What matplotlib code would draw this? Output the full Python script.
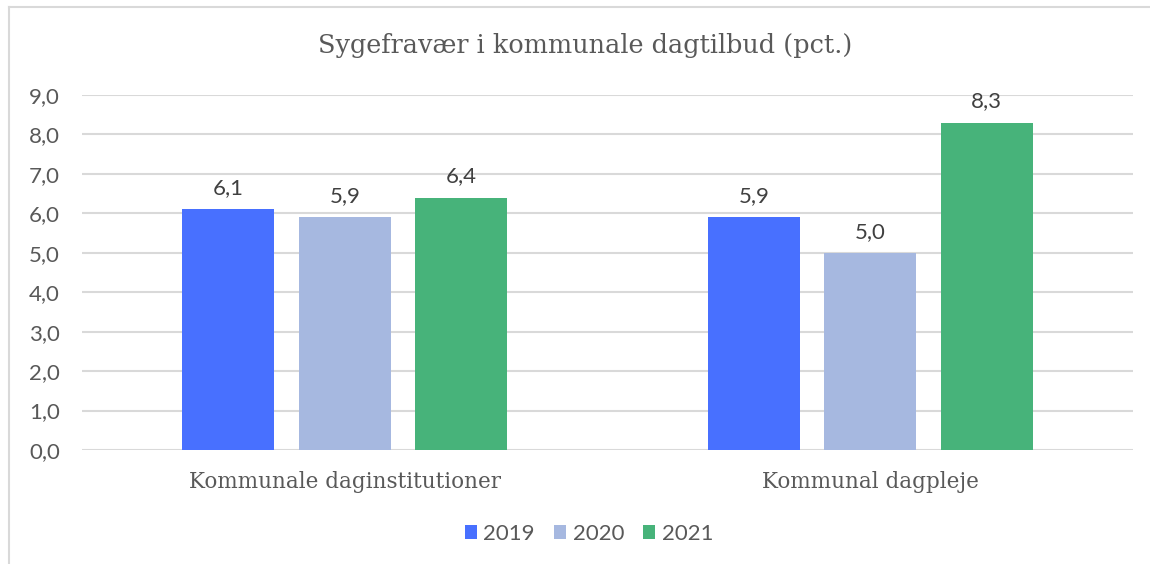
import matplotlib
matplotlib.use("Agg")
import matplotlib.pyplot as plt
from matplotlib.lines import Line2D
from matplotlib.patches import Patch
import numpy as np

categories = ["Kommunale daginstitutioner", "Kommunal dagpleje"]
years = ["2019", "2020", "2021"]
values_2019 = [6.1, 5.9]
values_2020 = [5.9, 5.0]
values_2021 = [6.4, 8.3]
yticks = [0, 1, 2, 3, 4, 5, 6, 7, 8, 9]

series = [values_2019, values_2020, values_2021]
colors = ["#4870FF", "#A6B8E0", "#47B37A"]
text_color = "#595959"
grid_color = "#D9D9D9"

fig = plt.figure(figsize=(11.5, 5.64), dpi=100)
W, H = 1150, 564
ax = fig.add_axes([82 / W, 1 - 450 / H, (1133 - 82) / W, (450 - 95) / H])

x = np.arange(len(categories))
bw = 0.175
offs = [-0.2217, 0.0, 0.2217]
for vals, c, o, yr in zip(series, colors, offs, years):
    bars = ax.bar(x + o, vals, width=bw, color=c, zorder=3, label=yr)
    for b, v in zip(bars, vals):
        ax.annotate(f"{v:.1f}".replace(".", ","), (b.get_x() + b.get_width() / 2, v),
                    xytext=(0, 8), textcoords="offset points", ha="center", va="bottom",
                    fontsize=16, color="#404040", family="Lato")

ax.set_xlim(-0.5, 1.5)
ax.set_ylim(0, 9)
ax.set_yticks(yticks)
ax.set_yticklabels([f"{t:.1f}".replace(".", ",") for t in yticks], family="Lato",
                   fontsize=16, color=text_color)
ax.yaxis.grid(True, color=grid_color, lw=1.5, zorder=0)
ax.set_xticks(x)
ax.set_xticklabels(categories, family="DejaVu Serif", fontsize=15.5, color=text_color)
ax.tick_params(axis="both", length=0)
ax.tick_params(axis="y", pad=16)
ax.tick_params(axis="x", pad=15)
for s in ax.spines.values():
    s.set_visible(False)

fig.text(585 / W, 1 - 45 / H, "Sygefravær i kommunale dagtilbud (pct.)", ha="center", va="center",
         family="DejaVu Serif", fontsize=18.4, color=text_color)

handles = [Patch(facecolor=c, edgecolor="none") for c in colors]
leg = fig.legend(handles, years, loc="center", bbox_to_anchor=(589 / W, 1 - 534 / H), ncol=3,
                 frameon=False, prop={"family": "Lato", "size": 16}, handlelength=0.55,
                 handleheight=0.55, handletextpad=0.3, columnspacing=0.85)
for t in leg.get_texts():
    t.set_color(text_color)

fig.add_artist(Line2D([8.5 / W, 1], [1 - 6.5 / H, 1 - 6.5 / H], color=grid_color, lw=1.5))
fig.add_artist(Line2D([8.5 / W, 8.5 / W], [0, 1 - 6.5 / H], color=grid_color, lw=1.5))

fig.savefig("out.png", dpi=100)
